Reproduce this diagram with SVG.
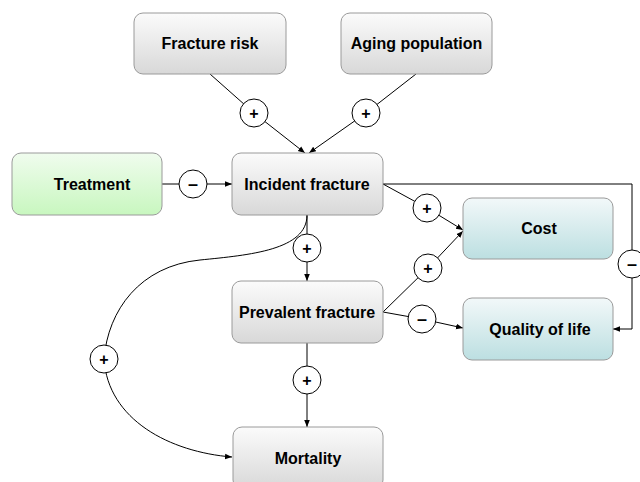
<svg xmlns="http://www.w3.org/2000/svg" width="640" height="482" viewBox="0 0 640 482">
<defs>
<linearGradient id="gGray" x1="0" y1="0" x2="0" y2="1">
<stop offset="0" stop-color="#fbfbfb"/>
<stop offset="1" stop-color="#d8d8d8"/>
</linearGradient>
<linearGradient id="gGreen" x1="0" y1="0" x2="0" y2="1">
<stop offset="0" stop-color="#f0fcee"/>
<stop offset="1" stop-color="#c8f7bf"/>
</linearGradient>
<linearGradient id="gBlue" x1="0" y1="0" x2="0" y2="1">
<stop offset="0" stop-color="#f2f8f9"/>
<stop offset="1" stop-color="#bcdfe1"/>
</linearGradient>
<marker id="arr" viewBox="0 0 10 10" refX="10" refY="5" markerWidth="7" markerHeight="7" markerUnits="userSpaceOnUse" orient="auto">
<path d="M0,1 L10,5 L0,9 Z" fill="#000"/>
</marker>
</defs>
<style>
.box{stroke:#9a9a9a;stroke-width:1}
.lbl{font-family:"Liberation Sans",Arial,sans-serif;font-weight:bold;font-size:16px;fill:#000;text-anchor:middle}
.ln{fill:none;stroke:#000;stroke-width:1}
.sg circle{fill:#fff;stroke:#000;stroke-width:1}
.sg text{font-family:"Liberation Sans",Arial,sans-serif;font-weight:bold;font-size:16px;fill:#000;text-anchor:middle}
.sg text.m{font-size:18px}
</style>
<rect width="640" height="482" fill="#fff"/>
<g id="connectors">
<path class="ln" d="M210,74 L254,113"/>
<path class="ln" d="M254,113 L305,153" marker-end="url(#arr)"/>
<path class="ln" d="M416,74 L366,113"/>
<path class="ln" d="M366,113 L309,153" marker-end="url(#arr)"/>
<path class="ln" d="M162,184 L193,184"/>
<path class="ln" d="M193,184 L232,184" marker-end="url(#arr)"/>
<path class="ln" d="M383,184 L427,208"/>
<path class="ln" d="M427,208 L463,230" marker-end="url(#arr)"/>
<path class="ln" d="M383,312 L428,268"/>
<path class="ln" d="M428,268 L463,231" marker-end="url(#arr)"/>
<path class="ln" d="M383,312 L422,319"/>
<path class="ln" d="M422,319 L463,328" marker-end="url(#arr)"/>
<path class="ln" d="M307,215 L307,248"/>
<path class="ln" d="M307,248 L307,281" marker-end="url(#arr)"/>
<path class="ln" d="M307,343 L307,380"/>
<path class="ln" d="M307,380 L307,427" marker-end="url(#arr)"/>
<path class="ln" d="M383,184 L632,184 L632,264"/>
<path class="ln" d="M632,264 L632,329 L613,329" marker-end="url(#arr)"/>
<path class="ln" d="M307,215 C307,250 250,255 200,260 C140,266 108,310 104,359"/>
<path class="ln" d="M104,359 C108,420 170,452 232,457" marker-end="url(#arr)"/>
<g class="sg">
<circle cx="254" cy="113" r="14"/><text x="254" y="119">+</text>
<circle cx="366" cy="113" r="14"/><text x="366" y="119">+</text>
<circle cx="193" cy="184" r="14"/><text class="m" x="193" y="190">–</text>
<circle cx="427" cy="208" r="14"/><text x="427" y="214">+</text>
<circle cx="428" cy="268" r="14"/><text x="428" y="274">+</text>
<circle cx="422" cy="319" r="14"/><text class="m" x="422" y="325">–</text>
<circle cx="307" cy="248" r="14"/><text x="307" y="254">+</text>
<circle cx="307" cy="380" r="14"/><text x="307" y="386">+</text>
<circle cx="632" cy="264" r="14"/><text class="m" x="632" y="270">–</text>
<circle cx="104" cy="359" r="14"/><text x="104" y="365">+</text>
</g>
</g>
<g id="fracture-risk">
<rect class="box" x="134" y="13" width="152" height="61" rx="9" fill="url(#gGray)"/>
<text class="lbl" x="210" y="49">Fracture risk</text>
</g>
<g id="aging-population">
<rect class="box" x="341" y="13" width="151" height="61" rx="9" fill="url(#gGray)"/>
<text class="lbl" x="416.5" y="49">Aging population</text>
</g>
<g id="treatment">
<rect class="box" x="12" y="153" width="150" height="62" rx="9" fill="url(#gGreen)"/>
<text class="lbl" x="92" y="190">Treatment</text>
</g>
<g id="incident-fracture">
<rect class="box" x="232" y="153" width="151" height="62" rx="9" fill="url(#gGray)"/>
<text class="lbl" x="307" y="190">Incident fracture</text>
</g>
<g id="cost">
<rect class="box" x="463" y="198" width="150" height="61" rx="9" fill="url(#gBlue)"/>
<text class="lbl" x="539" y="234">Cost</text>
</g>
<g id="prevalent-fracture">
<rect class="box" x="232" y="281" width="151" height="62" rx="9" fill="url(#gGray)"/>
<text class="lbl" x="307" y="318">Prevalent fracture</text>
</g>
<g id="quality-of-life">
<rect class="box" x="463" y="298" width="150" height="62" rx="9" fill="url(#gBlue)"/>
<text class="lbl" x="540" y="335">Quality of life</text>
</g>
<g id="mortality">
<rect class="box" x="233" y="427" width="150" height="62" rx="9" fill="url(#gGray)"/>
<text class="lbl" x="308" y="464">Mortality</text>
</g>
</svg>
